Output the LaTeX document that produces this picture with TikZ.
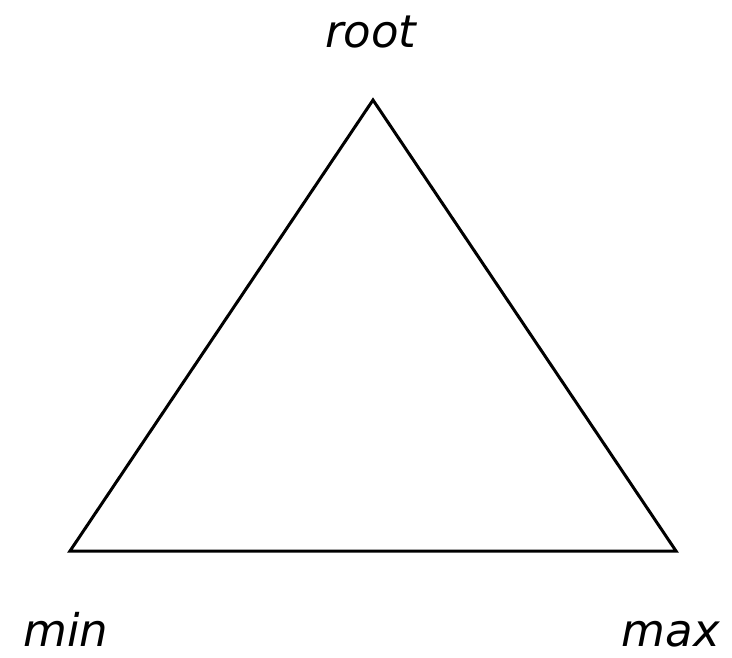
\documentclass[tikz,border=0pt]{standalone}
\usepackage{fontspec}
\setmainfont{DejaVu Sans}
\begin{document}
\begin{tikzpicture}[x=1pt,y=-1pt,
  lbl/.style={font=\fontsize{45}{50}\selectfont\itshape, anchor=base, inner sep=0pt},
  edge/.style={draw=black, line width=3pt, line join=miter}]
\useasboundingbox (0,0) rectangle (732,658);
\coordinate (top) at (373,100);
\coordinate (bl) at (70,551);
\coordinate (br) at (676,551);
\draw[edge] (top) -- (bl) -- (br) -- cycle;
\node[lbl] (root) at (371,48) {root};
\node[lbl] (min) at (66,646) {min};
\node[lbl] (max) at (671,646) {max};
\end{tikzpicture}
\end{document}
